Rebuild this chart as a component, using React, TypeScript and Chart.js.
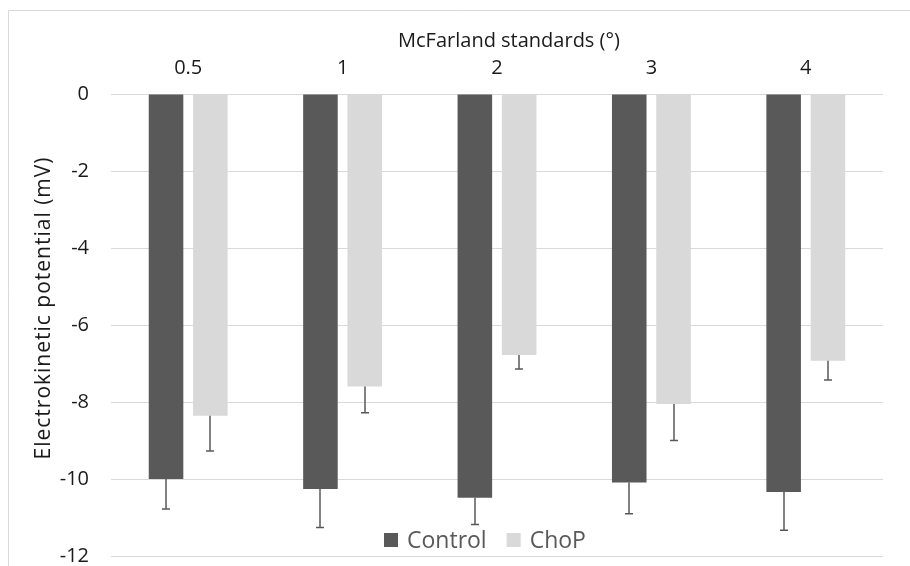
import React, { useEffect, useRef } from "react";
import { Chart, registerables } from "chart.js";

Chart.register(...registerables);

const categories = ["0.5", "1", "2", "3", "4"];
const controlValues = [-10.0, -10.26, -10.49, -10.09, -10.34];
const controlErrors = [0.78, 1.0, 0.69, 0.81, 0.99];
const chopValues = [-8.36, -7.6, -6.78, -8.05, -6.93];
const chopErrors = [0.91, 0.68, 0.36, 0.95, 0.5];
const seriesNames = ["Control", "ChoP"];
const seriesColors = ["#595959", "#d9d9d9"];
const xTitle = "McFarland standards (°)";
const yTitle = "Electrokinetic potential (mV)";
const yMin = -12;
const yMax = 0;
const yStep = 2;

const FONT = "'Open Sans', sans-serif";

const errorBarPlugin = {
  id: "errorBars",
  afterDatasetsDraw(chart: any) {
    const ctx = chart.ctx;
    const yScale = chart.scales.y;
    chart.data.datasets.forEach((ds: any, di: number) => {
      const meta = chart.getDatasetMeta(di);
      const errs: number[] = ds.errors || [];
      meta.data.forEach((bar: any, i: number) => {
        const v = ds.data[i];
        const e = errs[i];
        if (e == null) return;
        const x = Math.round(bar.x);
        const y0 = yScale.getPixelForValue(v);
        const y1 = yScale.getPixelForValue(v - e);
        ctx.save();
        ctx.strokeStyle = "#595959";
        ctx.lineWidth = 1.5;
        ctx.beginPath();
        ctx.moveTo(x, y0);
        ctx.lineTo(x, y1);
        ctx.moveTo(x - 4, y1);
        ctx.lineTo(x + 4, y1);
        ctx.stroke();
        ctx.restore();
      });
    });
  },
};

const decorPlugin = {
  id: "decor",
  afterDraw(chart: any) {
    const ctx = chart.ctx;
    const area = chart.chartArea;
    ctx.save();
    // frame
    ctx.strokeStyle = "#d9d9d9";
    ctx.lineWidth = 1;
    ctx.beginPath();
    ctx.moveTo(8.5, 566);
    ctx.lineTo(8.5, 10.5);
    ctx.lineTo(910, 10.5);
    ctx.stroke();
    // x title
    ctx.fillStyle = "#1a1a1a";
    ctx.font = `20px ${FONT}`;
    ctx.textAlign = "center";
    ctx.textBaseline = "middle";
    ctx.fillText(xTitle, (area.left + area.right) / 2 + 12, 41);
    // y title
    ctx.save();
    ctx.translate(44, 308);
    ctx.rotate(-Math.PI / 2);
    ctx.font = `21px ${FONT}`;
    (ctx as any).letterSpacing = "1px";
    ctx.fillText(yTitle, 0, 0);
    ctx.restore();
    // legend
    ctx.font = `23px ${FONT}`;
    ctx.textAlign = "left";
    let x = 384;
    chart.data.datasets.forEach((ds: any) => {
      ctx.fillStyle = ds.backgroundColor;
      ctx.fillRect(x, 533, 14, 14);
      x += 14 + 9;
      ctx.fillStyle = "#595959";
      ctx.fillText(ds.label, x, 541);
      x += ctx.measureText(ds.label).width + 20;
    });
    ctx.restore();
  },
};

export default function App() {
  const ref = useRef<HTMLCanvasElement | null>(null);
  useEffect(() => {
    if (!ref.current) return;
    const chart = new Chart(ref.current, {
      type: "bar",
      data: {
        labels: categories,
        datasets: [
          {
            label: seriesNames[0],
            data: controlValues,
            errors: controlErrors,
            backgroundColor: seriesColors[0],
          } as any,
          {
            label: seriesNames[1],
            data: chopValues,
            errors: chopErrors,
            backgroundColor: seriesColors[1],
          } as any,
        ],
      },
      options: {
        animation: false,
        responsive: false,
        maintainAspectRatio: false,
        layout: { padding: { left: 0, top: 0, right: 27, bottom: 10 } },
        datasets: { bar: { categoryPercentage: 0.574, barPercentage: 0.78 } },
        plugins: {
          legend: { display: false },
          tooltip: { enabled: false },
        },
        scales: {
          x: {
            position: "top",
            offset: true,
            grid: { display: false },
            border: { display: false },
            ticks: {
              color: "#1a1a1a",
              font: { family: FONT, size: 20 },
              padding: 6,
            },
            afterFit(scale: any) {
              scale.height = 94;
              scale.paddingLeft = 0;
              scale.paddingRight = 0;
            },
          },
          y: {
            min: yMin,
            max: yMax,
            grid: { color: "#d9d9d9", lineWidth: 1, drawTicks: false },
            border: { display: false },
            ticks: {
              stepSize: yStep,
              color: "#1a1a1a",
              font: { family: FONT, size: 20 },
              padding: 22,
            },
            afterFit(scale: any) {
              scale.width = 111;
              scale.paddingTop = 0;
              scale.paddingBottom = 0;
            },
          },
        },
      },
      plugins: [errorBarPlugin, decorPlugin],
    });
    return () => chart.destroy();
  }, []);
  return (
    <canvas
      ref={ref}
      width={910}
      height={566}
      style={{ position: "fixed", left: 0, top: 0, display: "block" }}
    />
  );
}
